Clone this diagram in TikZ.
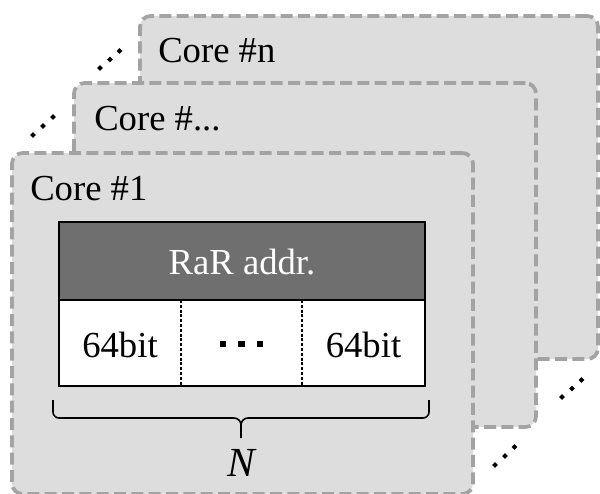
\documentclass[tikz,border=0pt]{standalone}
\usepackage{fontspec}
\setmainfont{Liberation Serif}
\usetikzlibrary{fit,shapes.geometric}
\definecolor{cardfill}{HTML}{DDDDDD}
\definecolor{cardline}{HTML}{A3A3A3}
\definecolor{headfill}{HTML}{6F6F6F}
\tikzset{
  card/.style={draw=cardline, fill=cardfill, line width=2.8pt,
    dash pattern=on 9pt off 4pt, rounded corners=8pt, inner sep=0pt},
  title/.style={anchor=base west, inner sep=0pt, font=\fontsize{27.5}{30}\selectfont},
  headcell/.style={draw=black, fill=headfill, line width=1.5pt, inner sep=0pt},
  rowcell/.style={draw=black, fill=white, line width=1.5pt, inner sep=0pt},
  celltext/.style={inner sep=0pt, font=\fontsize{27.5}{30}\selectfont},
  divider/.style={draw=black, line width=0.8pt, dash pattern=on 2.2pt off 1.4pt},
  dotmark/.style={diamond, fill=black, inner sep=0pt, minimum size=4.4pt},
  sqmark/.style={rectangle, fill=black, inner sep=0pt, minimum size=4.8pt},
  bracepath/.style={draw=black, line width=1.2pt}
}
\begin{document}
\begin{tikzpicture}[x=0.75pt,y=-0.75pt]
\useasboundingbox (0,0) rectangle (600,493);
\begin{scope}
\clip (0,0) rectangle (600,493);
% stacked cores, back to front
\node[card, fit={(140,16) (598,359)}] (coren) {};
\node[title] (tn) at (158,62) {Core \#n};
\node[card, fit={(74,83) (536,427)}] (coremid) {};
\node[title] (tmid) at (94,130) {Core \#...};
\node[card, fit={(12,153) (473,494)}] (core1) {};
\node[title] (t1) at (30,200) {Core \#1};
\end{scope}

% address table
\node[headcell, fit={(59,222) (425,300)}] (head) {};
\node[celltext, text=white] (headtxt) at (242,262) {RaR addr.};
\node[rowcell, fit={(59,300) (425,386)}] (row) {};
\coordinate (d1t) at (181,300); \coordinate (d1b) at (181,386);
\coordinate (d2t) at (302,300); \coordinate (d2b) at (302,386);
\draw[divider] (d1t) -- (d1b);
\draw[divider] (d2t) -- (d2b);
\node[celltext, anchor=base] (c1) at (120,357) {64bit};
\node[celltext, anchor=base] (c3) at (363.5,357) {64bit};
\node[sqmark] (s1) at (223,344) {};
\node[sqmark] (s2) at (241.5,344) {};
\node[sqmark] (s3) at (260,344) {};

% brace under the table
\coordinate (bl) at (53,400);
\coordinate (br) at (429,400);
\coordinate (bm) at (241,425);
\coordinate (btip) at (241,438);
\draw[bracepath] (bl) -- (53,412) to[out=-90,in=180] (59,418) -- (234,418)
  to[out=0,in=90] (bm) -- (btip);
\draw[bracepath] (bm) to[out=90,in=180] (248,418) -- (423,418)
  to[out=0,in=-90] (429,412) -- (br);
\node[inner sep=0pt, font=\fontsize{31}{34}\selectfont\itshape] (nlab) at (241,463) {N};

% diagonal ellipses between the stacked cores
\foreach \p [count=\i] in {(100,68),(110,59.5),(119.5,51),
                           (33,135),(43,126),(53,117),
                           (495,465),(505,456),(514.5,447),
                           (562,397),(572,388.5),(581.5,380)}
  \node[dotmark] (dot\i) at \p {};
\end{tikzpicture}
\end{document}
